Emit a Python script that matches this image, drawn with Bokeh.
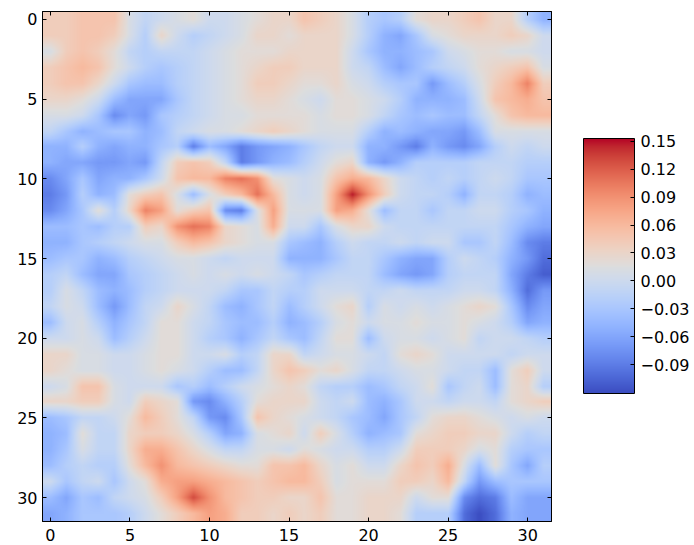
import numpy as np
from bokeh.plotting import figure
from bokeh.models import LinearColorMapper, ColorBar, FixedTicker, LinearAxis, Range1d, AllLabels
from bokeh.embed import file_html
from bokeh.resources import INLINE

# heat map values, in hundredths; one list per row
rows = [
 [4,4,5,5,5,1,-1,0,1,2,0,0,1,2,3,3, 5,4,3,1,-2,-3,-2,2,3,3,4,5,3,3,-2,-5],
 [4,4,5,5,4,1,-2,3,0,-2,-1,0,1,3,3,2, 3,3,3,1,-2,-5,-6,-3,1,2,3,3,3,4,3,0],
 [1,4,5,4,2,-1,-2,-1,-1,-1,0,1,2,2,2,3, 3,3,3,0,-3,-5,-5,-4,-3,0,1,2,2,1,1,0],
 [4,5,6,5,2,0,-2,-3,-2,-1,0,1,2,3,4,4, 3,3,3,0,-1,-4,-6,-4,-2,-1,0,2,3,4,5,1],
 [4,5,5,3,0,-3,-4,-4,-2,-1,0,1,2,4,4,3, 2,2,3,1,0,-2,-3,-3,-7,-4,-2,1,4,6,10,4],
 [3,3,2,0,-4,-6,-6,-6,-3,-1,0,1,2,3,3,2, 1,0,2,2,1,0,-2,-5,-5,-5,-4,0,5,6,7,5],
 [1,1,0,-3,-8,-6,-7,-3,-2,-1,0,1,1,2,2,2, 2,1,2,2,1,-1,-3,-4,-3,-4,-4,-1,2,5,6,6],
 [-1,-3,-5,-4,-3,-3,-5,-4,-1,0,1,1,2,3,4,3, 2,1,1,1,-2,-5,-4,-5,-6,-6,-7,-4,1,1,1,1],
 [-5,-5,-2,-5,-6,-5,-5,-3,-2,-9,-4,-6,-9,-7,-6,-5, -3,-1,0,0,-5,-5,-7,-9,-5,-7,-8,-6,-2,0,-1,0],
 [-5,-6,-6,-7,-7,-6,-7,-1,4,5,4,-1,-9,-7,-5,-4, -2,0,2,3,-5,-7,-5,-2,-2,-2,-2,-1,-1,-1,-2,-2],
 [-8,-6,-3,-6,-5,-5,-3,0,5,6,6,10,11,9,2,1, 0,1,5,7,6,3,0,-1,-2,-1,-2,-1,0,-1,-3,-3],
 [-9,-7,-2,-5,-4,2,4,5,1,-4,1,4,6,11,6,1, 0,1,8,15,9,4,0,-1,-1,-2,-5,-1,-1,-2,-5,-4],
 [-8,-6,-3,2,-2,3,10,8,2,4,5,-8,-9,1,8,1, 1,1,8,7,2,-4,-1,-1,-3,-1,-1,0,0,-2,-3,-5],
 [-4,-4,-3,-4,-2,-2,4,3,9,11,10,3,2,1,7,0, 0,-3,1,3,3,0,-1,-1,-1,-1,-1,-1,-1,-3,-5,-6],
 [-5,-5,-3,-2,-1,0,1,1,4,6,5,3,2,1,1,-3, -4,-5,-2,0,-1,-1,0,-1,0,0,-3,-3,-1,-4,-8,-9],
 [-4,-3,-3,-5,-4,-2,-1,0,1,1,0,-1,0,0,0,-5, -5,-5,-3,-1,-1,-3,-5,-6,-6,-2,0,-1,-2,-5,-7,-10],
 [-2,-1,-4,-6,-6,-3,-2,-1,0,1,0,1,0,1,0,-1, -3,-2,-1,-1,-1,-4,-6,-7,-6,-2,-1,-1,-1,-6,-9,-11],
 [-2,1,-1,-4,-5,-4,-2,-1,0,0,0,-1,-3,-3,-1,-2, -2,0,0,0,-1,-1,0,-1,-1,-1,0,0,-1,-5,-10,-7],
 [-1,1,0,-4,-7,-4,-1,0,3,1,-1,-4,-5,-3,-1,-4, -2,0,2,3,-2,1,0,1,0,1,2,3,2,-3,-8,-6],
 [-4,0,1,-2,-5,-3,-1,2,2,0,-1,-3,-4,-4,-2,-5, -4,-2,1,2,0,1,1,2,1,1,2,1,0,-2,-6,-5],
 [0,0,1,0,-4,-2,0,2,2,0,-2,-3,-5,-3,-1,-3, -4,-1,2,2,-4,0,1,1,0,1,2,-1,0,0,-1,-2],
 [3,3,1,1,0,0,1,2,2,0,0,1,-2,-1,3,3, -1,0,1,1,0,-1,2,3,2,0,0,0,0,-1,0,0],
 [3,2,1,1,0,0,1,2,1,0,-2,-4,-4,-1,3,5, 4,2,3,1,-1,-1,0,1,1,0,-1,-1,-4,2,4,0],
 [0,1,5,5,1,0,0,0,-3,-2,-4,-2,0,1,2,3, 2,-1,-2,-2,-4,-3,-1,0,2,-3,-1,0,-4,2,3,-2],
 [3,3,4,4,1,0,4,3,2,-7,-8,-5,-2,2,3,3, 3,0,-1,0,-4,-5,-3,0,0,-1,0,0,-1,2,3,4],
 [-4,-3,-1,-1,0,2,6,4,2,-1,-7,-8,-3,5,3,2, 1,0,-1,-3,-4,-6,-3,-1,2,3,3,2,1,0,1,0],
 [-5,-4,2,-1,-1,3,4,4,3,1,-2,-6,-5,1,2,3, 0,4,1,-2,-5,-4,-3,2,3,4,4,3,3,0,-2,-1],
 [-5,-3,1,-1,-1,3,7,7,5,3,1,-1,-1,1,1,0, 2,1,0,0,-2,-2,0,4,4,4,3,1,2,-2,-3,-3],
 [-4,-2,-1,-2,-2,2,6,9,6,5,4,3,2,2,5,5, 6,3,1,2,0,0,3,5,4,7,1,-4,2,-3,-6,-2],
 [0,-3,-1,0,-3,0,2,7,8,8,7,6,5,4,5,6, 6,4,1,2,2,2,4,4,3,6,-1,-7,-4,-3,-3,-3],
 [-4,-6,-3,-4,-1,0,1,4,8,13,9,6,5,4,4,3, 3,5,2,2,3,3,3,0,2,2,-8,-10,-9,-4,-6,-6],
 [-6,-5,-3,-3,-3,-2,0,2,4,6,8,7,4,4,3,4, 3,4,2,2,3,3,2,-2,-2,-2,-10,-12,-10,-5,-6,-6],
]
value_low = -0.121
value_high = 0.153
image_ticks = [0, 5, 10, 15, 20, 25, 30]
bar_ticks = [0.15, 0.12, 0.09, 0.06, 0.03, 0.00, -0.03, -0.06, -0.09]
bar_labels = ["0.15", "0.12", "0.09", "0.06", "0.03", "0.00", "\u22120.03", "\u22120.06", "\u22120.09"]

# diverging colour ramp stops (blue - grey - red)
ramp = [(59,76,192),(68,90,204),(77,104,215),(87,117,225),(98,130,234),(108,142,241),(119,154,247),
        (130,165,251),(141,176,254),(152,185,255),(163,194,255),(174,201,253),(184,208,249),(194,213,244),
        (204,217,238),(213,219,230),(221,221,221),(229,216,209),(236,211,197),(241,204,185),(245,196,173),
        (247,187,160),(247,177,148),(247,166,135),(244,154,123),(241,141,111),(236,127,99),(229,112,88),
        (222,96,77),(213,80,66),(203,62,56),(192,40,47),(180,4,38)]
ramp = np.array(ramp, float)
t = np.linspace(0, 32, 256)
palette = ["#%02x%02x%02x" % tuple(int(round(np.interp(v, np.arange(33), ramp[:, c]))) for c in range(3)) for v in t]

grid = np.array(rows, float) / 100.0

# smooth display of the cells, as a bilinear image does
K = 16
n = grid.shape[0]
u = (np.arange(n * K) + 0.5) / K - 0.5
idx = np.arange(n)
tmp = np.array([np.interp(u, idx, grid[r, :]) for r in range(n)])
smooth = np.array([np.interp(u, idx, tmp[:, c]) for c in range(tmp.shape[1])]).T

mapper = LinearColorMapper(palette=palette, low=value_low, high=value_high)

p = figure(frame_width=509, frame_height=510, output_backend="svg", toolbar_location=None,
           x_range=Range1d(-0.5, 31.5), y_range=Range1d(31.5, -0.5),
           min_border_left=42, min_border_right=143, min_border_top=11, min_border_bottom=24,
           background_fill_color="white", border_fill_color="white")
p.image(image=[smooth], x=-0.5, y=-0.5, dw=32, dh=32, color_mapper=mapper)
p.grid.visible = False
p.outline_line_color = "black"
p.outline_line_width = 1


def style(axis, labels=True, standoff=5):
    axis.ticker = FixedTicker(ticks=image_ticks)
    axis.major_tick_in = 4
    axis.major_tick_out = 0
    axis.minor_tick_in = 0
    axis.minor_tick_out = 0
    axis.axis_line_color = "black"
    axis.major_tick_line_color = "black"
    if labels:
        axis.major_label_text_font = "DejaVu Sans"
        axis.major_label_text_font_size = "16px"
        axis.major_label_text_color = "black"
        axis.major_label_standoff = standoff
    else:
        axis.major_label_overrides = {k: "" for k in image_ticks}
        axis.major_label_text_font_size = "1px"
        axis.major_label_standoff = 0


style(p.xaxis[0], standoff=7)
style(p.yaxis[0], standoff=5)
p.xaxis[0].major_label_text_baseline = "middle"
p.yaxis[0].major_label_orientation = "horizontal"
top = LinearAxis()
right = LinearAxis()
style(top, False)
style(right, False)
p.add_layout(top, "above")
p.add_layout(right, "right")

cb = ColorBar(color_mapper=mapper, width=51, height=255, location=(541, 128), padding=0, margin=0,
              ticker=FixedTicker(ticks=bar_ticks),
              major_label_overrides=dict(zip(bar_ticks, bar_labels)),
              major_label_policy=AllLabels(),
              major_label_text_font="DejaVu Sans", major_label_text_font_size="16px",
              major_label_text_color="black", label_standoff=6,
              major_tick_in=4, major_tick_line_color="black",
              minor_tick_line_color=None, bar_line_color="black", bar_line_width=1,
              background_fill_color=None, border_line_color=None)
p.add_layout(cb, "center")

open("out.html", "w").write(file_html(p, INLINE))
